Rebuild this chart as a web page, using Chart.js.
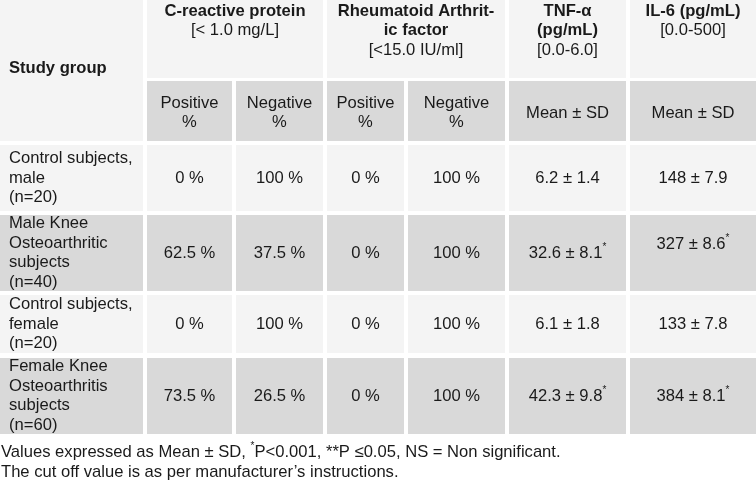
<!DOCTYPE html>
<html>
<head>
<meta charset="utf-8">
<script src="https://cdn.jsdelivr.net/npm/chart.js@4.4.0/dist/chart.umd.js"></script>
<style>
  html, body { margin: 0; padding: 0; background: #ffffff; }
  #wrap { width: 756px; height: 484px; position: relative; }
</style>
</head>
<body>
<div id="wrap"><canvas id="tableChart"></canvas></div>
<script>
// Table data
const groupLabels = [
    ['Control subjects,', 'male', '(n=20)'],
    ['Male Knee', 'Osteoarthritic', 'subjects', '(n=40)'],
    ['Control subjects,', 'female', '(n=20)'],
    ['Female Knee', 'Osteoarthritis', 'subjects', '(n=60)']
];
const crpPositive = [0, 62.5, 0, 73.5];
const crpNegative = [100, 37.5, 100, 26.5];
const rfPositive = [0, 0, 0, 0];
const rfNegative = [100, 100, 100, 100];
const tnfMean = [6.2, 32.6, 6.1, 42.3];
const tnfSD = [1.4, 8.1, 1.8, 9.8];
const tnfSignificant = [false, true, false, true];
const il6Mean = [148, 327, 133, 384];
const il6SD = [7.9, 8.6, 7.8, 8.1];
const il6Significant = [false, true, false, true];

const headerTitles = [
    { bold: ['C-reactive protein'], normal: ['[< 1.0 mg/L]'] },
    { bold: ['Rheumatoid Arthrit-', 'ic factor'], normal: ['[<15.0 IU/ml]'] },
    { bold: ['TNF-\u03b1', '(pg/mL)'], normal: ['[0.0-6.0]'] },
    { bold: ['IL-6 (pg/mL)'], normal: ['[0.0-500]'] }
];
const subHeaders = [['Positive', '%'], ['Negative', '%'], ['Positive', '%'], ['Negative', '%'], ['Mean \u00b1 SD'], ['Mean \u00b1 SD']];
const footnotes = ['Values expressed as Mean \u00b1 SD, ', '*', 'P<0.001, **P \u22640.05, NS = Non significant.'];
const footnote2 = 'The cut off value is as per manufacturer\u2019s instructions.';

// Layout (in scale units)
const colEdges = [[0, 143], [147, 232], [236, 323], [327, 404], [408, 505], [509, 626], [630, 756]];
const rowEdges = [[0, 78], [81, 141], [145, 211], [215, 291], [295, 353], [358, 434]];
const headerSpans = [[1, 2], [3, 4], [5, 5], [6, 6]];
const lineHeight = 19.5;
const light = '#f4f4f4';
const dark = '#d9d9d9';
const textColor = '#1a1a1a';
const fontFamily = '"Liberation Sans", Arial, sans-serif';
const fontSize = 16.6;

function pct(v) { return v + ' %'; }

function drawSegments(ctx, segs, cx, cy, align) {
    // segs: [{text, font, dy}]
    let total = 0;
    segs.forEach(s => { ctx.font = s.font; s.w = ctx.measureText(s.text).width; total += s.w; });
    let x = align === 'left' ? cx : cx - total / 2;
    ctx.textAlign = 'left';
    segs.forEach(s => {
        ctx.font = s.font;
        ctx.fillText(s.text, x, cy + (s.dy || 0));
        x += s.w;
    });
}

const tablePlugin = {
    id: 'tablePlugin',
    beforeDatasetsDraw(chart) {
        const ctx = chart.ctx;
        const X = v => chart.scales.x.getPixelForValue(v);
        const Y = v => chart.scales.y.getPixelForValue(v);
        const normal = fontSize + 'px ' + fontFamily;
        const bold = 'bold ' + fontSize + 'px ' + fontFamily;
        const sup = '10px ' + fontFamily;

        function cell(c0, c1, r0, r1, color) {
            ctx.fillStyle = color;
            const x0 = X(colEdges[c0][0]), x1 = X(colEdges[c1][1]);
            const y0 = Y(rowEdges[r0][0]), y1 = Y(rowEdges[r1][1]);
            ctx.fillRect(x0, y0, x1 - x0, y1 - y0);
        }
        function lines(texts, cx, cyCenter, align, fonts) {
            const start = cyCenter - (texts.length - 1) * lineHeight / 2;
            texts.forEach((t, i) => {
                drawSegments(ctx, [{ text: t, font: fonts[i] }], cx, start + i * lineHeight, align);
            });
        }

        ctx.save();
        ctx.textBaseline = 'middle';

        // Header backgrounds
        cell(0, 0, 0, 1, light);
        headerSpans.forEach(sp => cell(sp[0], sp[1], 0, 0, light));
        for (let c = 1; c < colEdges.length; c++) cell(c, c, 1, 1, dark);
        // Data row backgrounds
        groupLabels.forEach((g, i) => {
            const color = i % 2 === 0 ? light : dark;
            for (let c = 0; c < colEdges.length; c++) cell(c, c, i + 2, i + 2, color);
        });

        ctx.fillStyle = textColor;
        // Study group
        drawSegments(ctx, [{ text: 'Study group', font: bold }], X(9), Y((rowEdges[0][0] + rowEdges[1][1]) / 2) - 2, 'left');

        // Header titles, top aligned
        headerTitles.forEach((h, i) => {
            const sp = headerSpans[i];
            const cx = X((colEdges[sp[0]][0] + colEdges[sp[1]][1]) / 2);
            const all = h.bold.concat(h.normal);
            all.forEach((t, k) => {
                const f = k < h.bold.length ? bold : normal;
                drawSegments(ctx, [{ text: t, font: f }], cx, Y(11 + k * lineHeight), 'center');
            });
        });

        // Sub headers
        subHeaders.forEach((s, i) => {
            const c = i + 1;
            const cx = X((colEdges[c][0] + colEdges[c][1]) / 2);
            const cy = Y((rowEdges[1][0] + rowEdges[1][1]) / 2);
            lines(s, cx, cy + 2, 'center', s.map(() => normal));
        });

        // Data rows
        groupLabels.forEach((g, i) => {
            const r = rowEdges[i + 2];
            const cy = Y((r[0] + r[1]) / 2);
            lines(g, X(9), cy, 'left', g.map(() => normal));
            const simple = [pct(crpPositive[i]), pct(crpNegative[i]), pct(rfPositive[i]), pct(rfNegative[i])];
            simple.forEach((t, k) => {
                const c = k + 1;
                drawSegments(ctx, [{ text: t, font: normal }], X((colEdges[c][0] + colEdges[c][1]) / 2), cy, 'center');
            });
            const tnfSegs = [{ text: tnfMean[i] + ' \u00b1 ' + tnfSD[i], font: normal }];
            if (tnfSignificant[i]) tnfSegs.push({ text: '*', font: sup, dy: -6 });
            drawSegments(ctx, tnfSegs, X((colEdges[5][0] + colEdges[5][1]) / 2), cy, 'center');
            const ilSegs = [{ text: il6Mean[i] + ' \u00b1 ' + il6SD[i], font: normal }];
            if (il6Significant[i]) ilSegs.push({ text: '*', font: sup, dy: -6 });
            const ilShift = i === 1 ? -9 : 0;
            drawSegments(ctx, ilSegs, X((colEdges[6][0] + colEdges[6][1]) / 2), cy + ilShift, 'center');
        });

        // Footnotes
        drawSegments(ctx, [
            { text: footnotes[0], font: normal },
            { text: footnotes[1], font: sup, dy: -6 },
            { text: footnotes[2], font: normal }
        ], X(1), Y(452), 'left');
        drawSegments(ctx, [{ text: footnote2, font: normal }], X(1), Y(472), 'left');

        ctx.restore();
    }
};

new Chart(document.getElementById('tableChart'), {
    type: 'scatter',
    data: { datasets: [{ data: [] }] },
    options: {
        responsive: true,
        maintainAspectRatio: false,
        animation: false,
        layout: { padding: 0 },
        plugins: { legend: { display: false }, tooltip: { enabled: false } },
        scales: {
            x: { type: 'linear', min: 0, max: 756, display: false },
            y: { type: 'linear', min: 0, max: 484, reverse: true, display: false }
        }
    },
    plugins: [tablePlugin]
});
</script>
</body>
</html>
